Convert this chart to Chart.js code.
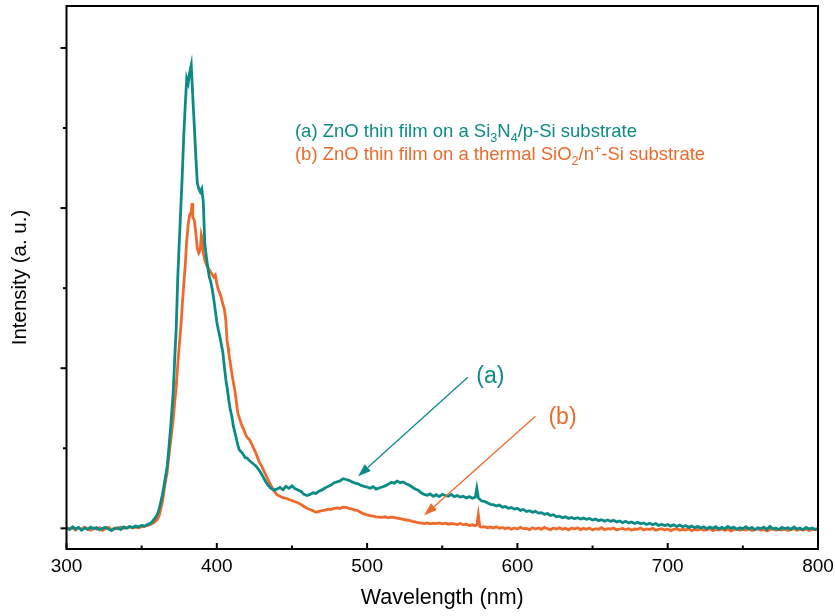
<!DOCTYPE html>
<html>
<head>
<meta charset="utf-8">
<script src="https://cdn.jsdelivr.net/npm/chart.js@4.4.1/dist/chart.umd.min.js"></script>
<style>
  body { margin: 0; background: #fff; }
  #wrap { width: 835px; height: 616px; }
</style>
</head>
<body>
<div id="wrap"><canvas id="pl_spectrum" width="835" height="616"></canvas></div>
<script>
// PL spectra, [wavelength nm, intensity a.u.]
const spectrumA = [
  [300,3],[302,-8],[304,10],[306,-4],[308,6],[310,-12],[312,2],[314,-6],[316,8],[318,-3],
  [320,5],[322,-10],[324,0],[326,7],[328,-5],[330,-14],[332,-2],[334,4],[336,-7],[338,9],
  [340,1],[342,12],[344,5],[346,14],[348,8],[350,18],[352,15],[354,24],[356,32],[358,52],
  [360,80],[361,100],[362,135],[363,175],[364,219],[365,275],[366,330],[367,390],[368,490],[369,600],
  [370,720],[371,850],[372,1060],[373,1250],[374,1560],[375,1780],[376,1990],[377,2200],[378,2450],[379,2640],
  [380,2810],[381,2780],[382,2850],[383,2894],[384,2700],[385,2520],[386,2330],[387,2160],[388,2120],[389,2100],
  [390,2120],[391,2040],[392,1780],[393,1700],[394,1630],[395,1570],[396,1540],[397,1490],[398,1430],[399,1360],
  [400,1290],[401,1240],[402,1200],[403,1150],[404,1100],[405,1010],[406,930],[407,870],[408,800],[409,740],
  [410,700],[411,640],[412,600],[413,560],[414,520],[415,490],[416,480],[417,470],[418,455],[419,440],
  [420,440],[422,420],[424,405],[426,390],[428,365],[430,335],[432,300],[434,270],[436,250],[438,240],
  [440,245],[442,255],[444,240],[446,262],[448,250],[450,265],[452,248],[454,240],[456,230],[458,212],
  [460,205],[462,212],[464,222],[466,218],[468,232],[470,240],[472,252],[474,262],[476,270],[478,285],
  [480,290],[482,296],[484,310],[486,305],[488,300],[490,290],[492,282],[494,278],[496,268],[498,262],
  [500,258],[502,250],[504,260],[506,245],[508,252],[510,258],[512,265],[514,275],[516,288],[518,282],
  [520,295],[522,285],[524,290],[526,278],[528,270],[530,258],[532,245],[534,238],[536,222],[538,212],
  [540,206],[542,215],[544,200],[546,210],[548,198],[550,212],[552,205],[554,200],[556,212],[558,198],
  [560,205],[562,195],[564,200],[566,190],[568,198],[570,188],[572,195],[573,250],[574,190],[576,172],
  [578,168],[580,160],[582,150],[584,148],[586,140],[588,145],[590,132],[592,136],[594,125],[596,130],
  [598,120],[600,125],[602,112],[604,118],[606,105],[608,110],[610,100],[612,106],[614,95],[616,98],
  [618,88],[620,92],[622,80],[624,85],[626,72],[628,76],[630,66],[632,72],[634,62],[636,68],
  [638,60],[640,66],[642,58],[644,64],[646,56],[648,62],[650,52],[652,58],[654,48],[656,54],
  [658,45],[660,52],[662,44],[664,50],[666,40],[668,46],[670,36],[672,44],[674,34],[676,40],
  [678,30],[680,38],[682,28],[684,34],[686,24],[688,32],[690,22],[692,30],[694,18],[696,26],
  [698,16],[700,24],[702,14],[704,22],[706,12],[708,20],[710,10],[712,18],[714,6],[716,14],
  [718,4],[720,12],[722,2],[724,10],[726,-2],[728,8],[730,0],[732,10],[734,-4],[736,6],
  [738,-2],[740,12],[742,0],[744,8],[746,-6],[748,4],[750,-2],[752,10],[754,-4],[756,6],
  [758,-8],[760,4],[762,-2],[764,8],[766,-6],[768,12],[770,-4],[772,2],[774,-8],[776,6],
  [778,-2],[780,4],[782,-6],[784,8],[786,-4],[788,2],[790,-8],[792,6],[794,-4],[796,2],
  [798,-6],[800,0]
];

const spectrumB = [
  [300,6],[302,-4],[304,2],[306,-10],[308,4],[310,-6],[312,8],[314,-2],[316,-12],[318,3],
  [320,-6],[322,4],[324,-14],[326,-2],[328,6],[330,-8],[332,2],[334,-4],[336,8],[338,0],
  [340,4],[342,10],[344,2],[346,8],[348,4],[350,10],[352,12],[354,18],[356,25],[358,35],
  [360,50],[361,65],[362,90],[363,130],[364,175],[365,240],[366,300],[367,350],[368,440],[369,520],
  [370,600],[371,680],[372,790],[373,880],[374,1020],[375,1140],[376,1250],[377,1390],[378,1520],[379,1640],
  [380,1800],[381,1900],[382,1960],[383,1975],[383.5,2031],[384,1944],[385,1925],[386,1850],[387,1750],[388,1720],
  [389,1740],[389.7,1831],[390.5,1800],[391,1720],[392,1675],[393,1650],[394,1630],[395,1615],[396,1600],[397,1585],
  [398,1569],[399,1581],[400,1530],[401,1490],[402,1469],[403,1440],[404,1400],[405,1370],[406,1300],[406.8,1175],
  [407.5,1130],[408,1094],[409,1030],[410,969],[411,910],[412,863],[413,790],[414,719],[415,690],[416,660],
  [417,635],[418,615],[419,590],[420,570],[422,550],[424,510],[426,470],[428,420],[430,385],[432,345],
  [434,305],[436,268],[438,235],[440,210],[442,200],[444,192],[446,188],[448,180],[450,174],[452,166],
  [454,160],[456,150],[458,136],[460,125],[462,118],[464,110],[466,100],[468,106],[470,110],[472,114],
  [474,120],[476,118],[478,125],[480,128],[482,124],[484,132],[486,131],[488,125],[490,120],[492,114],
  [494,110],[496,98],[498,90],[500,84],[502,80],[504,76],[506,72],[508,70],[510,68],[512,72],
  [514,66],[516,70],[518,68],[520,64],[522,60],[524,56],[526,52],[528,50],[530,44],[532,40],
  [534,35],[536,32],[538,30],[540,34],[542,28],[544,32],[546,30],[548,34],[550,28],[552,32],
  [554,26],[556,30],[558,28],[560,24],[562,30],[564,22],[566,26],[568,18],[570,22],[572,16],
  [573,20],[574,85],[575,12],[576,8],[578,10],[580,4],[582,8],[584,2],[586,10],[588,0],
  [590,6],[592,-2],[594,4],[596,-6],[598,2],[600,-4],[602,6],[604,-2],[606,0],[608,-8],
  [610,4],[612,-4],[614,2],[616,-6],[618,6],[620,-2],[622,-8],[624,2],[626,-4],[628,4],
  [630,-6],[632,0],[634,-10],[636,2],[638,-4],[640,4],[642,-8],[644,0],[646,-6],[648,2],
  [650,-10],[652,-2],[654,-6],[656,4],[658,-8],[660,-2],[662,-4],[664,2],[666,-10],[668,-4],
  [670,0],[672,-8],[674,-2],[676,-12],[678,-4],[680,-6],[682,2],[684,-10],[686,-4],[688,-8],
  [690,0],[692,-12],[694,-6],[696,-2],[698,-10],[700,-4],[702,-14],[704,-6],[706,-2],[708,-12],
  [710,-6],[712,-10],[714,-2],[716,-14],[718,-6],[720,-10],[722,-4],[724,-12],[726,-8],[728,-2],
  [730,-14],[732,-6],[734,-10],[736,-4],[738,-12],[740,-6],[742,-16],[744,-8],[746,-4],[748,-12],
  [750,-6],[752,-10],[754,-2],[756,-14],[758,-8],[760,-4],[762,-12],[764,-6],[766,-16],[768,-8],
  [770,-2],[772,-12],[774,-6],[776,-10],[778,-4],[780,-14],[782,-8],[784,-2],[786,-12],[788,-6],
  [790,-10],[792,-4],[794,-14],[796,-8],[798,-6],[800,-10]
];

const xMajorTicks = [300, 400, 500, 600, 700, 800];
const xMinorTicks = [350, 450, 550, 650, 750];
const yMajorTicks = [0, 1000, 2000, 3000];
const yMinorTicks = [500, 1500, 2500];

// callouts: label position and arrow (from -> to), in data units
const calloutA = { text: "(a)", at: [582, 950], from: [567, 944], to: [494, 325] };
const calloutB = { text: "(b)", at: [630, 694], from: [612, 700], to: [538, 81] };

const TEAL = "#0b8b86";
const ORANGE = "#ef692b";
const FONT = "'Liberation Sans', Arial, sans-serif";

// legend lines, each as runs of [text, "n" | "sub" | "sup"]
const legendLines = [
  { color: TEAL, at: [452, 2445], runs: [["(a) ZnO thin film on a Si", "n"], ["3", "sub"], ["N", "n"], ["4", "sub"], ["/p-Si substrate", "n"]] },
  { color: ORANGE, at: [452, 2302], runs: [["(b) ZnO thin film on a thermal SiO", "n"], ["2", "sub"], ["/n", "n"], ["+", "sup"], ["-Si substrate", "n"]] }
];

function toPoints(pairs) {
  return pairs.map(p => ({ x: p[0], y: p[1] }));
}

function drawRuns(ctx, x, y, runs, size) {
  runs.forEach(r => {
    let dy = 0;
    let s = size;
    if (r[1] === "sub") { s = size * 0.68; dy = size * 0.26; }
    if (r[1] === "sup") { s = size * 0.68; dy = -size * 0.38; }
    ctx.font = s + "px " + FONT;
    ctx.fillText(r[0], x, y + dy);
    x += ctx.measureText(r[0]).width;
  });
}

function drawArrow(ctx, x1, y1, x2, y2, color) {
  const ang = Math.atan2(y2 - y1, x2 - x1);
  const head = 13, half = 4.5;
  const bx = x2 - head * Math.cos(ang), by = y2 - head * Math.sin(ang);
  ctx.strokeStyle = color;
  ctx.fillStyle = color;
  ctx.lineWidth = 1.3;
  ctx.beginPath();
  ctx.moveTo(x1, y1);
  ctx.lineTo(bx, by);
  ctx.stroke();
  ctx.beginPath();
  ctx.moveTo(x2, y2);
  ctx.lineTo(bx + half * Math.sin(ang), by - half * Math.cos(ang));
  ctx.lineTo(bx - half * Math.sin(ang), by + half * Math.cos(ang));
  ctx.closePath();
  ctx.fill();
}

const framePlugin = {
  id: "frame",
  afterDatasetsDraw(chart) {
    const { ctx, chartArea: a, scales: { x, y } } = chart;
    ctx.save();
    ctx.strokeStyle = "#000";
    ctx.lineWidth = 2;
    ctx.strokeRect(a.left, a.top, a.right - a.left, a.bottom - a.top);

    // x ticks point into the plot, y ticks point out
    const tick = (x1, y1, x2, y2) => { ctx.beginPath(); ctx.moveTo(x1, y1); ctx.lineTo(x2, y2); ctx.stroke(); };
    xMajorTicks.forEach(v => { const px = x.getPixelForValue(v); tick(px, a.bottom, px, a.bottom - 6); });
    xMinorTicks.forEach(v => { const px = x.getPixelForValue(v); tick(px, a.bottom, px, a.bottom - 3.5); });
    yMajorTicks.forEach(v => { const py = y.getPixelForValue(v); tick(a.left, py, a.left - 6, py); });
    yMinorTicks.forEach(v => { const py = y.getPixelForValue(v); tick(a.left, py, a.left - 3.5, py); });

    // legend text
    ctx.textBaseline = "alphabetic";
    ctx.textAlign = "left";
    legendLines.forEach(l => {
      ctx.fillStyle = l.color;
      drawRuns(ctx, x.getPixelForValue(l.at[0]), y.getPixelForValue(l.at[1]), l.runs, 18.5);
    });

    // callouts
    [[calloutA, TEAL], [calloutB, ORANGE]].forEach(([c, color]) => {
      drawArrow(ctx,
        x.getPixelForValue(c.from[0]), y.getPixelForValue(c.from[1]),
        x.getPixelForValue(c.to[0]), y.getPixelForValue(c.to[1]), color);
      ctx.fillStyle = color;
      ctx.font = "23px " + FONT;
      ctx.textAlign = "center";
      ctx.textBaseline = "middle";
      ctx.fillText(c.text, x.getPixelForValue(c.at[0]), y.getPixelForValue(c.at[1]));
    });
    ctx.restore();
  }
};

const ctx = document.getElementById("pl_spectrum");
new Chart(ctx, {
  type: "line",
  data: {
    datasets: [
      { label: "(a)", data: toPoints(spectrumA), borderColor: TEAL, borderWidth: 2.8, pointRadius: 0, tension: 0, order: 0 },
      { label: "(b)", data: toPoints(spectrumB), borderColor: ORANGE, borderWidth: 2.8, pointRadius: 0, tension: 0, order: 1 }
    ]
  },
  options: {
    responsive: false,
    animation: false,
    layout: { padding: { top: 6, right: 17, left: 0, bottom: 0 } },
    plugins: { legend: { display: false }, tooltip: { enabled: false } },
    scales: {
      x: {
        type: "linear",
        min: 300,
        max: 800,
        grid: { display: false, drawTicks: false },
        border: { display: false },
        ticks: { stepSize: 100, padding: 6, color: "#000", font: { family: FONT, size: 19 } },
        title: { display: true, text: "Wavelength (nm)", color: "#000", font: { family: FONT, size: 21.5 }, padding: { top: 0, bottom: 5 } },
        afterFit(scale) {
          scale.height = 67;
          // the end labels may hang over the frame edges
          scale.paddingLeft = 0;
          scale.paddingRight = 0;
        }
      },
      y: {
        min: -129,
        max: 3262,
        grid: { display: false, drawTicks: false },
        border: { display: false },
        ticks: { display: false },
        title: { display: true, text: "Intensity (a. u.)", color: "#000", font: { family: FONT, size: 20.5 }, padding: { top: 8, bottom: 0 } },
        afterFit(scale) { scale.width = 66.5; }
      }
    }
  },
  plugins: [framePlugin]
});
</script>
</body>
</html>
